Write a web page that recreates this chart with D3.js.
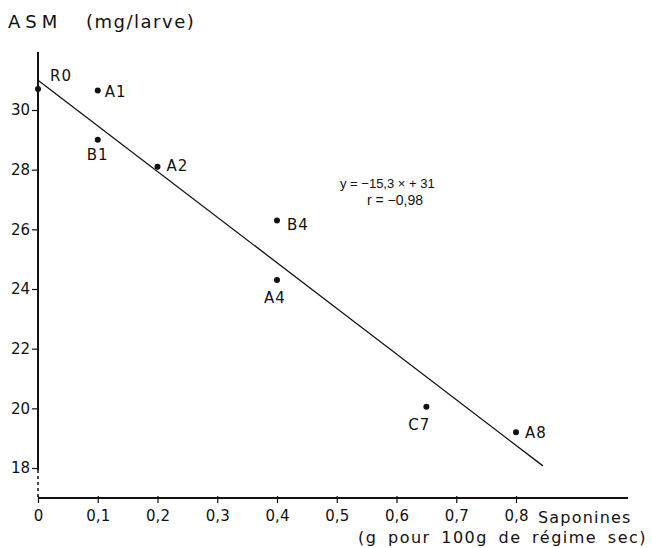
<!DOCTYPE html>
<html>
<head>
<meta charset="utf-8">
<script src="https://cdn.jsdelivr.net/npm/d3@7"></script>
<style>
  body { margin: 0; background: #fff; }
  text { font-family: "DejaVu Sans", sans-serif; fill: #111; }
</style>
</head>
<body>
<svg id="chart" width="652" height="548"></svg>
<script>
// Data: saponin level vs ASM
var labels = ["R0", "A1", "B1", "A2", "B4", "A4", "C7", "A8"];
var saponines = [0, 0.1, 0.1, 0.2, 0.4, 0.4, 0.65, 0.8];
var asm = [30.7, 30.65, 29.0, 28.1, 26.3, 24.3, 20.05, 19.2];
var xTicks = [0, 0.1, 0.2, 0.3, 0.4, 0.5, 0.6, 0.7, 0.8];
var yTicks = [18, 20, 22, 24, 26, 28, 30];
// Regression y = -15.3x + 31
var slope = -15.3, intercept = 31;

// Label offsets relative to each point
var labelPos = {
    R0: [12, -8, "start"], A1: [7, 6, "start"], B1: [0, 20, "middle"],
    A2: [9, 4, "start"], B4: [10, 10, "start"], A4: [-2, 23, "middle"],
    C7: [-7, 23, "middle"], A8: [9, 6, "start"]
};

var svg = d3.select("#chart");

// Scales: 0 at x=38, 0.1 per ~59.8px ; 30 at y=110, 2 units per ~59.7px
var x = d3.scaleLinear().domain([0, 0.8]).range([38, 516]);
var y = d3.scaleLinear().domain([18, 30]).range([468, 110]);

var fmt = function (d) { return d === 0 ? "0" : d3.format(".1f")(d).replace(".", ","); };

// X axis
var xAxis = svg.append("g")
    .attr("transform", "translate(0,498)")
    .call(d3.axisBottom(x).tickValues(xTicks).tickFormat(fmt).tickSize(5).tickSizeOuter(0));
xAxis.select(".domain").remove();
xAxis.append("line")
    .attr("x1", 38).attr("x2", 628)
    .attr("stroke", "#111").attr("stroke-width", 2);
xAxis.selectAll(".tick line").attr("stroke", "#111").attr("stroke-width", 1.2).attr("y1", -2);
xAxis.selectAll(".tick text")
    .attr("y", 12).attr("dy", "0.71em")
    .style("font-size", "15px");

// Y axis
var yAxis = svg.append("g")
    .attr("transform", "translate(38,0)")
    .call(d3.axisLeft(y).tickValues(yTicks).tickSize(6).tickSizeOuter(0));
yAxis.select(".domain").remove();
yAxis.append("line")
    .attr("y1", 52).attr("y2", 470)
    .attr("stroke", "#111").attr("stroke-width", 2);
yAxis.append("line")
    .attr("y1", 470).attr("y2", 498)
    .attr("stroke", "#111").attr("stroke-width", 1.5)
    .attr("stroke-dasharray", "3,3");
yAxis.selectAll(".tick line").attr("stroke", "#111").attr("stroke-width", 1.2);
yAxis.selectAll(".tick text")
    .attr("x", -8)
    .style("font-size", "15px");

// Axis titles
svg.append("text")
    .attr("x", 8).attr("y", 28)
    .style("font-size", "18px")
    .style("letter-spacing", "5px")
    .text("ASM");
svg.append("text")
    .attr("x", 86).attr("y", 28)
    .style("font-size", "18px")
    .style("letter-spacing", "1.5px")
    .text("(mg/larve)");

svg.append("text")
    .attr("x", 538).attr("y", 523)
    .style("font-size", "16px")
    .style("letter-spacing", "1.2px")
    .text("Saponines");
svg.append("text")
    .attr("x", 358).attr("y", 543)
    .style("font-size", "16px")
    .style("letter-spacing", "1.5px")
    .style("word-spacing", "4px")
    .text("(g pour 100g de régime sec)");

// Regression line
var xEnd = 0.845;
svg.append("line")
    .attr("x1", x(0)).attr("y1", y(intercept))
    .attr("x2", x(xEnd)).attr("y2", y(slope * xEnd + intercept))
    .attr("stroke", "#111").attr("stroke-width", 1.3);

// Points
var pts = svg.selectAll(".pt")
    .data(labels)
    .enter()
    .append("g")
    .attr("class", "pt")
    .attr("transform", function (d, i) {
        return "translate(" + x(saponines[i]) + "," + y(asm[i]) + ")";
    });
pts.append("circle")
    .attr("r", 3)
    .attr("fill", "#111");
pts.append("text")
    .attr("x", function (d) { return labelPos[d][0]; })
    .attr("y", function (d) { return labelPos[d][1]; })
    .attr("text-anchor", function (d) { return labelPos[d][2]; })
    .style("font-size", "15px")
    .style("letter-spacing", "1px")
    .text(function (d) { return d; });

// Equation
svg.append("text")
    .attr("x", 340).attr("y", 188)
    .style("font-family", "'Liberation Sans', sans-serif")
    .style("font-size", "13px")
    .text("y = \u221215,3 \u00d7 + 31");
svg.append("text")
    .attr("x", 367).attr("y", 205)
    .style("font-family", "'Liberation Sans', sans-serif")
    .style("font-size", "14px")
    .text("r = \u22120,98");
</script>
</body>
</html>
